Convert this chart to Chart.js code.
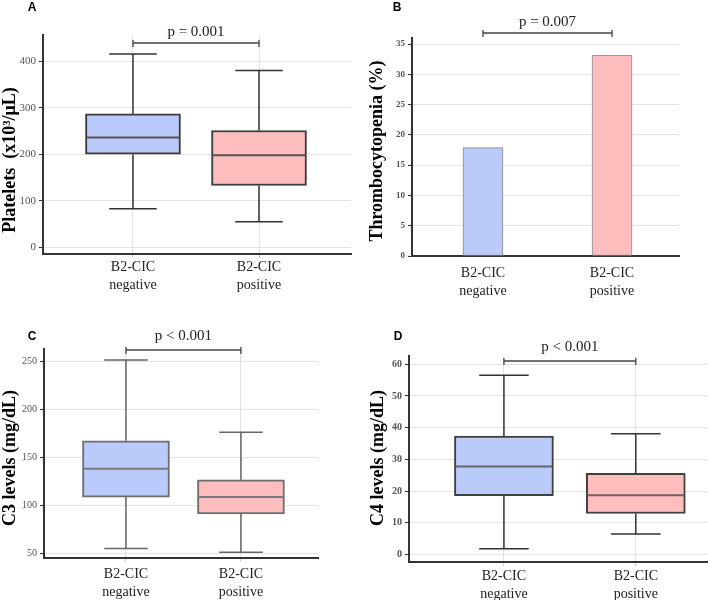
<!DOCTYPE html>
<html>
<head>
<meta charset="utf-8">
<script src="https://cdn.jsdelivr.net/npm/chart.js@4.4.1/dist/chart.umd.min.js"></script>
<style>
  html, body { margin: 0; padding: 0; background: #ffffff; }
  #wrap { position: relative; width: 708px; height: 600px; overflow: hidden; }
  .panel { position: absolute; width: 354px; height: 300px; }
</style>
</head>
<body>
<div id="wrap">
  <div class="panel" style="left:0;top:0"><canvas id="cA"></canvas></div>
  <div class="panel" style="left:354px;top:0"><canvas id="cB"></canvas></div>
  <div class="panel" style="left:0;top:300px"><canvas id="cC"></canvas></div>
  <div class="panel" style="left:354px;top:300px"><canvas id="cD"></canvas></div>
</div>
<script>
// ---------------- DATA ----------------
const groupPositions = [1, 2];
const groupLabels = [['B2-CIC', 'negative'], ['B2-CIC', 'positive']];

// Panel A: Platelets (x10^3/uL) box plot
const plateletsMin    = [83, 55];
const plateletsQ1     = [200, 133];
const plateletsMedian = [236, 198];
const plateletsQ3     = [287, 251];
const plateletsMax    = [415, 380];
const plateletsTicks  = [0, 100, 200, 300, 400];

// Panel B: Thrombocytopenia (%) bars
const thrombocytopeniaPct   = [17.9, 33.2];
const thrombocytopeniaTicks = [0, 5, 10, 15, 20, 25, 30, 35];

// Panel C: C3 levels (mg/dL) box plot
const c3Min    = [55, 51];
const c3Q1     = [108.5, 91];
const c3Median = [138, 108.5];
const c3Q3     = [167, 126.5];
const c3Max    = [251, 176];
const c3Ticks  = [50, 100, 150, 200, 250];

// Panel D: C4 levels (mg/dL) box plot
const c4Min    = [1.8, 6.4];
const c4Q1     = [18.5, 12.9];
const c4Median = [27.7, 18.7];
const c4Q3     = [37.3, 25.6];
const c4Max    = [56.5, 38.1];
const c4Ticks  = [0, 10, 20, 30, 40, 50, 60];

const pValues = ['p = 0.001', 'p = 0.007', 'p < 0.001', 'p < 0.001'];
const panelLetters = ['A', 'B', 'C', 'D'];
const yTitles = ['Platelets  (x10\u00B3/\u03BCL)', 'Thrombocytopenia (%)', 'C3 levels (mg/dL)', 'C4 levels (mg/dL)'];

// ---------------- STYLE ----------------
const fillColors = ['#b9cafb', '#ffbdbd'];
const SERIF = "'Liberation Serif', 'Times New Roman', serif";
const SANS = "'Liberation Sans', Arial, sans-serif";
Chart.defaults.animation = false;

const decor = {
  id: 'decor',
  afterDatasetsDraw(chart, args, o) {
    const ctx = chart.ctx, xs = chart.scales.x, ys = chart.scales.y;
    if (o.box) {
      const b = o.box;
      const meta = chart.getDatasetMeta(0);
      meta.data.forEach((bar, i) => {
        const cx = bar.x, w = bar.width, cap = w * 0.25;
        ctx.save();
        ctx.strokeStyle = o.whiskerColor;
        ctx.lineWidth = o.whiskerWidth;
        ctx.beginPath();
        const pMax = ys.getPixelForValue(b.max[i]);
        const pMin = ys.getPixelForValue(b.min[i]);
        ctx.moveTo(cx, ys.getPixelForValue(b.q3[i])); ctx.lineTo(cx, pMax);
        ctx.moveTo(cx, ys.getPixelForValue(b.q1[i])); ctx.lineTo(cx, pMin);
        ctx.moveTo(cx - cap, pMax); ctx.lineTo(cx + cap, pMax);
        ctx.moveTo(cx - cap, pMin); ctx.lineTo(cx + cap, pMin);
        ctx.stroke();
        ctx.strokeStyle = o.medianColor;
        ctx.lineWidth = 2;
        ctx.beginPath();
        const pMed = ys.getPixelForValue(b.median[i]);
        ctx.moveTo(cx - w / 2 + 1, pMed); ctx.lineTo(cx + w / 2 - 1, pMed);
        ctx.stroke();
        ctx.restore();
      });
    }
    // significance bracket
    const x1 = xs.getPixelForValue(groupPositions[0]);
    const x2 = xs.getPixelForValue(groupPositions[1]);
    const yb = chart.chartArea.top + o.bracketOffset;
    ctx.save();
    ctx.strokeStyle = '#444';
    ctx.lineWidth = 1.3;
    ctx.beginPath();
    ctx.moveTo(x1, yb); ctx.lineTo(x2, yb);
    ctx.moveTo(x1, yb - 3); ctx.lineTo(x1, yb + 4);
    ctx.moveTo(x2, yb - 3); ctx.lineTo(x2, yb + 4);
    ctx.stroke();
    ctx.fillStyle = '#222';
    ctx.font = '15px ' + SERIF;
    ctx.textAlign = 'center';
    ctx.textBaseline = 'middle';
    ctx.fillText(o.pText, (x1 + x2) / 2, yb - o.textGap);
    ctx.restore();
  },
  afterDraw(chart, args, o) {
    const ctx = chart.ctx;
    ctx.save();
    ctx.fillStyle = '#000';
    ctx.font = 'bold 12px ' + SANS;
    ctx.textAlign = 'center';
    ctx.textBaseline = 'middle';
    ctx.fillText(o.letter, o.letterX, o.letterY);
    ctx.translate(o.titleX, o.titleY);
    ctx.rotate(-Math.PI / 2);
    ctx.font = 'bold 18px ' + SERIF;
    ctx.fillText(o.title, 0, 0);
    ctx.restore();
  }
};

function makeChart(id, cfg) {
  const W = 354, H = 300, a = cfg.area;
  const boxData = groupPositions.map((x, i) => ({ x: x, y: cfg.bars[i] }));
  return new Chart(document.getElementById(id), {
    type: 'bar',
    data: {
      datasets: [{
        data: boxData,
        backgroundColor: fillColors,
        borderColor: cfg.borderColor,
        borderWidth: cfg.borderWidth,
        borderSkipped: false,
        barThickness: cfg.barThickness
      }]
    },
    options: {
      responsive: true,
      maintainAspectRatio: false,
      events: [],
      layout: { padding: { top: a.top, right: W - a.right, left: 0, bottom: 0 } },
      plugins: {
        legend: { display: false },
        tooltip: { enabled: false },
        decor: cfg.decor
      },
      scales: {
        x: {
          type: 'linear',
          offset: false,
          min: cfg.xMin, max: cfg.xMax,
          afterBuildTicks: s => { s.ticks = groupPositions.map(v => ({ value: v })); },
          afterFit: s => { s.height = H - a.bottom; },
          grid: {
            offset: false,
            color: cfg.vGrid ? '#e2e2e2' : 'rgba(0,0,0,0)',
            tickColor: cfg.vGrid ? '#cfcfcf' : 'rgba(0,0,0,0)',
            tickLength: cfg.xTickLen,
            lineWidth: 1
          },
          border: { display: true, color: '#333', width: 2 },
          ticks: {
            padding: cfg.xPad,
            color: '#222',
            maxRotation: 0,
            autoSkip: false,
            font: { family: SERIF, size: 14, lineHeight: 1.25 },
            callback: v => groupLabels[groupPositions.indexOf(v)]
          }
        },
        y: {
          min: cfg.yMin, max: cfg.yMax,
          afterBuildTicks: s => { s.ticks = cfg.yTicks.map(v => ({ value: v })); },
          afterFit: s => { s.width = a.left; },
          grid: { color: '#e4e4e4', tickColor: '#333', tickLength: 4, lineWidth: 1 },
          border: { display: true, color: '#333', width: 2 },
          ticks: {
            padding: 3,
            color: '#555',
            font: { family: SERIF, size: cfg.yTickSize, weight: cfg.yTickWeight }
          }
        }
      }
    },
    plugins: [decor]
  });
}

function boxObj(mn, q1, md, q3, mx) {
  return { min: mn, q1: q1, median: md, q3: q3, max: mx };
}

makeChart('cA', {
  area: { left: 43, right: 351, top: 35, bottom: 254 },
  xMin: 0.286, xMax: 2.73, yMin: -14, yMax: 456, yTicks: plateletsTicks,
  bars: groupPositions.map((_, i) => [plateletsQ1[i], plateletsQ3[i]]),
  borderColor: '#3c3c3c', borderWidth: 2, barThickness: 95,
  vGrid: true, xTickLen: 4, xPad: 1, yTickSize: 11, yTickWeight: 'normal',
  decor: {
    box: boxObj(plateletsMin, plateletsQ1, plateletsMedian, plateletsQ3, plateletsMax),
    whiskerColor: '#333', whiskerWidth: 1.5, medianColor: '#555',
    bracketOffset: 8, textGap: 11, pText: pValues[0],
    letter: panelLetters[0], letterX: 32, letterY: 8,
    title: yTitles[0], titleX: 10, titleY: 160
  }
});

makeChart('cB', {
  area: { left: 58, right: 325, top: 38, bottom: 256 },
  xMin: 0.45, xMax: 2.519, yMin: 0, yMax: 36, yTicks: thrombocytopeniaTicks,
  bars: thrombocytopeniaPct,
  borderColor: '#8a8a8a', borderWidth: 1, barThickness: 40,
  vGrid: false, xTickLen: 0, xPad: 9, yTickSize: 9, yTickWeight: 'bold',
  decor: {
    box: null,
    bracketOffset: -5, textGap: 11, pText: pValues[1],
    letter: panelLetters[1], letterX: 43, letterY: 8,
    title: yTitles[1], titleX: 23, titleY: 151
  }
});

makeChart('cC', {
  area: { left: 44, right: 318, top: 49, bottom: 258 },
  xMin: 0.287, xMax: 2.67, yMin: 45.1, yMax: 262.5, yTicks: c3Ticks,
  bars: groupPositions.map((_, i) => [c3Q1[i], c3Q3[i]]),
  borderColor: '#6e6e6e', borderWidth: 2, barThickness: 87,
  vGrid: true, xTickLen: 4, xPad: 4, yTickSize: 10, yTickWeight: 'normal',
  decor: {
    box: boxObj(c3Min, c3Q1, c3Median, c3Q3, c3Max),
    whiskerColor: '#666', whiskerWidth: 1.5, medianColor: '#7a7a7a',
    bracketOffset: 1, textGap: 14, pText: pValues[2],
    letter: panelLetters[2], letterX: 32, letterY: 37,
    title: yTitles[2], titleX: 10, titleY: 158
  }
});

makeChart('cD', {
  area: { left: 55, right: 353, top: 56, bottom: 262 },
  xMin: 0.28, xMax: 2.54, yMin: -2.4, yMax: 62.6, yTicks: c4Ticks,
  bars: groupPositions.map((_, i) => [c4Q1[i], c4Q3[i]]),
  borderColor: '#404040', borderWidth: 2, barThickness: 99,
  vGrid: true, xTickLen: 4, xPad: 2, yTickSize: 10, yTickWeight: 'bold',
  decor: {
    box: boxObj(c4Min, c4Q1, c4Median, c4Q3, c4Max),
    whiskerColor: '#333', whiskerWidth: 1.5, medianColor: '#666',
    bracketOffset: 5, textGap: 14, pText: pValues[3],
    letter: panelLetters[3], letterX: 44, letterY: 37,
    title: yTitles[3], titleX: 24, titleY: 158
  }
});
</script>
</body>
</html>
